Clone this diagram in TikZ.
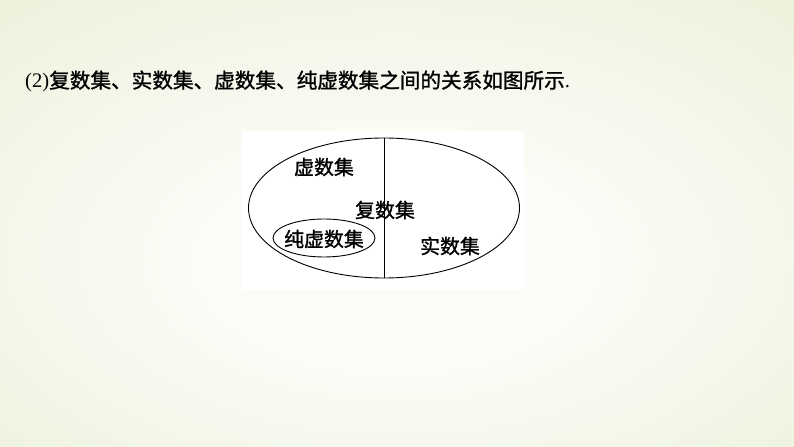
\documentclass[tikz,border=0pt]{standalone}
\usepackage{fontspec}
\setmainfont{Liberation Serif}
\newfontfamily\cjk[FakeBold=1.2]{Noto Sans CJK SC}
\usetikzlibrary{shapes.geometric}
\definecolor{bggreen}{RGB}{226,234,200}
\definecolor{bgcenter}{RGB}{251,252,247}
\pgfdeclareradialshading{bgshade}{\pgfpoint{0bp}{-5bp}}{color(0bp)=(bgcenter); color(12bp)=(bgcenter); color(55bp)=(bggreen); color(80bp)=(bggreen)}
\tikzset{
  setlabel/.style={font=\cjk\fontsize{20}{22}\selectfont, inner sep=0pt},
  setline/.style={draw=black, line width=0.9bp},
}
\begin{document}
\begin{tikzpicture}[x=1bp,y=-1bp]
\useasboundingbox (0,0) rectangle (794,447);
\shade[shading=bgshade] (0,0) rectangle (794,447);
% white image panel
\fill[white] (242,131) rectangle (524,290);
% title
\node[anchor=base west, inner sep=0pt, font=\fontsize{20.7}{24}\selectfont] (title) at (25,88)
  {(2){\cjk 复数集、实数集、虚数集、纯虚数集之间的关系如图所示}.};
% outer ellipse
\node[setline, ellipse, minimum width=271bp, minimum height=140bp, inner sep=0pt] (complex) at (384,208) {};
\draw[setline] (complex.north) -- (complex.south);
% inner ellipse
\node[setline, ellipse, minimum width=102bp, minimum height=38bp, inner sep=0pt] (pure) at (324,238) {};
% labels
\node[setlabel] (imagT) at (324,167) {虚数集};
\node[setlabel] (complexT) at (385,210) {复数集};
\node[setlabel] (pureT) at (324,239) {纯虚数集};
\node[setlabel] (realT) at (450,246) {实数集};
\end{tikzpicture}
\end{document}
